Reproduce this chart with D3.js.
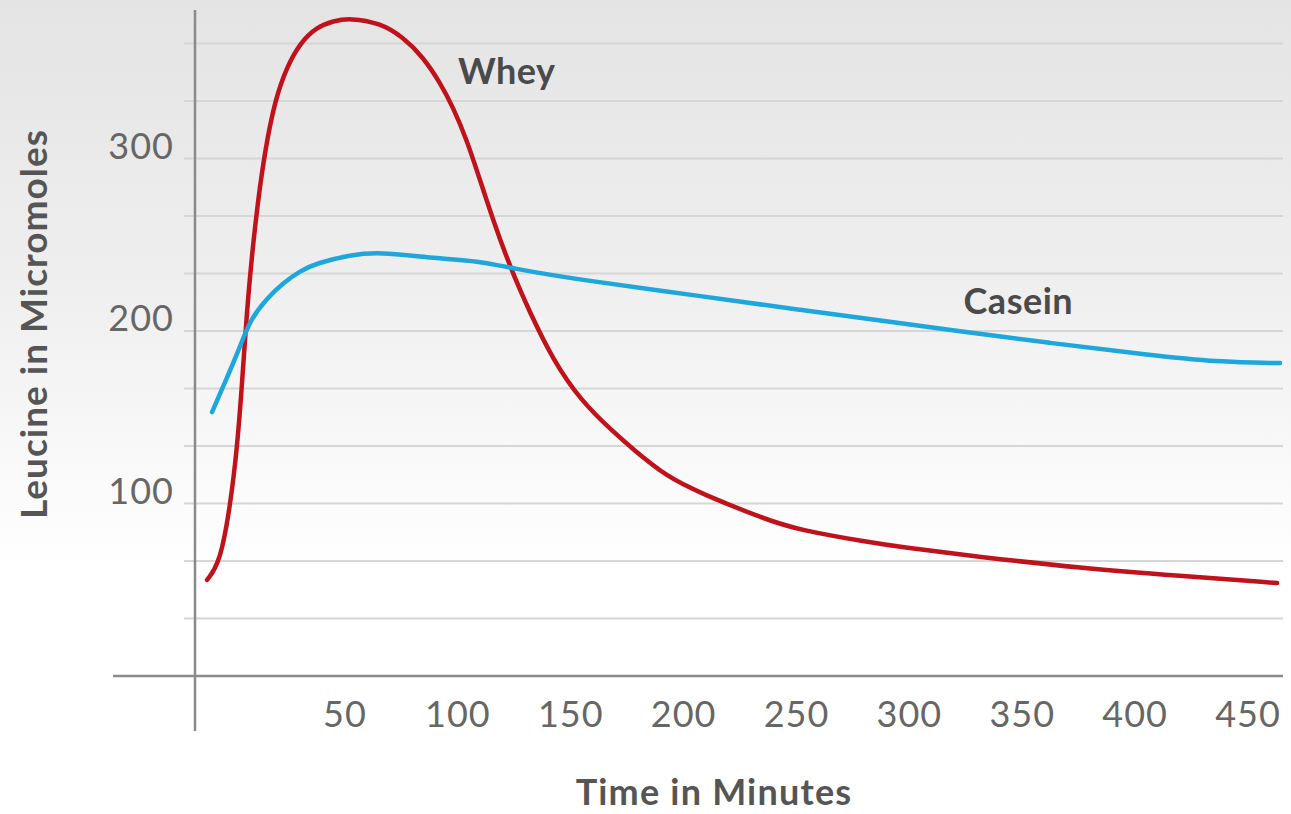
<!DOCTYPE html>
<html>
<head>
<meta charset="utf-8">
<script src="https://cdn.jsdelivr.net/npm/d3@7"></script>
<style>
  html, body { margin: 0; padding: 0; background: #fff; }
</style>
</head>
<body>
<svg id="chart"></svg>
<script>
// Leucine in blood after whey vs casein
const width = 1291;
const height = 814;

// time (minutes) / leucine
const wheyTime = [-11.1, -5.4, -0.9, 2.2, 4.2, 5.9, 7.0, 9.0, 11.5, 14.6, 19.0, 24.2, 30.1, 37.5, 44.8, 52.2, 65.5, 75.7, 84.6, 92.1, 97.8, 104.0, 109.8, 115.6, 123.1, 132.0, 142.2, 154.2, 168.8, 177.6, 192.7, 207.3, 236.9, 251.5, 281.2, 295.8, 331.3, 375.6, 419.9, 462.9];
const wheyValue = [55.7, 65.5, 98.0, 132.2, 165.8, 198.8, 218.0, 247.0, 275.9, 304.9, 333.9, 353.0, 367.0, 376.2, 379.7, 381.4, 378.6, 370.4, 358.8, 344.0, 329.9, 310.7, 287.5, 264.3, 237.1, 210.4, 183.2, 160.0, 141.5, 131.5, 115.4, 106.1, 90.4, 84.6, 77.7, 74.8, 69.0, 62.6, 58.0, 53.9];

const caseinTime = [-8.9, -2.3, 3.5, 7.9, 15.5, 22.6, 30.1, 37.6, 52.2, 65.5, 87.7, 109.8, 123.1, 154.2, 207.3, 251.5, 295.8, 318.0, 362.3, 406.6, 436.3, 464.2];
const caseinValue = [153.0, 172.8, 190.7, 206.4, 219.1, 227.8, 234.8, 239.4, 244.1, 245.8, 242.3, 240.6, 236.5, 229.6, 220.3, 212.2, 204.6, 200.6, 193.0, 186.1, 182.0, 181.4];

const xTicks = [50, 100, 150, 200, 250, 300, 350, 400, 450];
const yLabels = [100, 200, 300];
const gridValues = [33.3, 66.7, 100, 133.3, 166.7, 200, 233.3, 266.7, 300, 333.3, 366.7];

const svg = d3.select("#chart")
  .attr("width", width)
  .attr("height", height)
  .style("display", "block");

// echelles
const x = d3.scaleLinear().domain([50, 450]).range([345, 1248]);
const y = d3.scaleLinear().domain([0, 100]).range([676, 503.5]);

// fond gris -> blanc
const defs = svg.append("defs");
const grad = defs.append("linearGradient")
  .attr("id", "bg")
  .attr("x1", 0).attr("x2", 0).attr("y1", 0).attr("y2", 1);
grad.append("stop").attr("offset", "0%").attr("stop-color", "#e4e4e4");
grad.append("stop").attr("offset", "35%").attr("stop-color", "#efefef");
grad.append("stop").attr("offset", "70%").attr("stop-color", "#ffffff");
svg.append("rect")
  .attr("width", width)
  .attr("height", height)
  .attr("fill", "url(#bg)");

// grille
svg.append("g")
  .selectAll("line")
  .data(gridValues)
  .join("line")
  .attr("x1", 184)
  .attr("x2", 1283)
  .attr("y1", d => y(d))
  .attr("y2", d => y(d))
  .attr("stroke", "#d6d6d6")
  .attr("stroke-width", 2);

// axes
svg.append("line")
  .attr("x1", 113).attr("x2", 1283)
  .attr("y1", y(0)).attr("y2", y(0))
  .attr("stroke", "#8a8a8a")
  .attr("stroke-width", 2.5);
svg.append("line")
  .attr("x1", 195).attr("x2", 195)
  .attr("y1", 10).attr("y2", 731)
  .attr("stroke", "#8a8a8a")
  .attr("stroke-width", 2.5);

// tick labels
svg.append("g")
  .selectAll("text")
  .data(yLabels)
  .join("text")
  .attr("x", 174)
  .attr("y", d => y(d))
  .attr("text-anchor", "end")
  .attr("font-family", "Lato, sans-serif")
  .attr("font-weight", 400)
  .attr("font-size", 36)
  .attr("letter-spacing", 1)
  .attr("fill", "#666")
  .text(d => d);

svg.append("g")
  .selectAll("text")
  .data(xTicks)
  .join("text")
  .attr("x", d => x(d))
  .attr("y", 727)
  .attr("text-anchor", "middle")
  .attr("font-family", "Lato, sans-serif")
  .attr("font-weight", 400)
  .attr("font-size", 36)
  .attr("letter-spacing", 1)
  .attr("fill", "#666")
  .text(d => d);

// titres des axes
svg.append("text")
  .attr("transform", "translate(47,324) rotate(-90)")
  .attr("text-anchor", "middle")
  .attr("font-family", "Lato, sans-serif")
  .attr("font-weight", 700)
  .attr("font-size", 37)
  .attr("letter-spacing", 1)
  .attr("fill", "#555")
  .text("Leucine in Micromoles");

svg.append("text")
  .attr("x", 714)
  .attr("y", 805)
  .attr("text-anchor", "middle")
  .attr("font-family", "Lato, sans-serif")
  .attr("font-weight", 700)
  .attr("font-size", 36)
  .attr("letter-spacing", 1.2)
  .attr("fill", "#555")
  .text("Time in Minutes");

// courbes (lissage basis pour gommer le bruit de lecture)
const line = d3.line()
  .x(d => x(d[0]))
  .y(d => y(d[1]))
  .curve(d3.curveBasis);

const series = [
  { name: "Whey", color: "#c0121b", pts: wheyTime.map((t, i) => [t, wheyValue[i]]), lab: [100, 343] },
  { name: "Casein", color: "#1ea7dc", pts: caseinTime.map((t, i) => [t, caseinValue[i]]), lab: [324, 210] }
];

svg.append("g")
  .selectAll("path")
  .data(series)
  .join("path")
  .attr("d", d => line(d.pts))
  .attr("fill", "none")
  .attr("stroke", d => d.color)
  .attr("stroke-width", 4.5)
  .attr("stroke-linecap", "round")
  .attr("stroke-linejoin", "round");

// etiquettes
svg.append("g")
  .selectAll("text")
  .data(series)
  .join("text")
  .attr("x", d => x(d.lab[0]))
  .attr("y", d => y(d.lab[1]))
  .attr("font-family", "Lato, sans-serif")
  .attr("font-weight", 700)
  .attr("font-size", 36)
  .attr("letter-spacing", 0.5)
  .attr("fill", "#4a4a4a")
  .text(d => d.name);
</script>
</body>
</html>
